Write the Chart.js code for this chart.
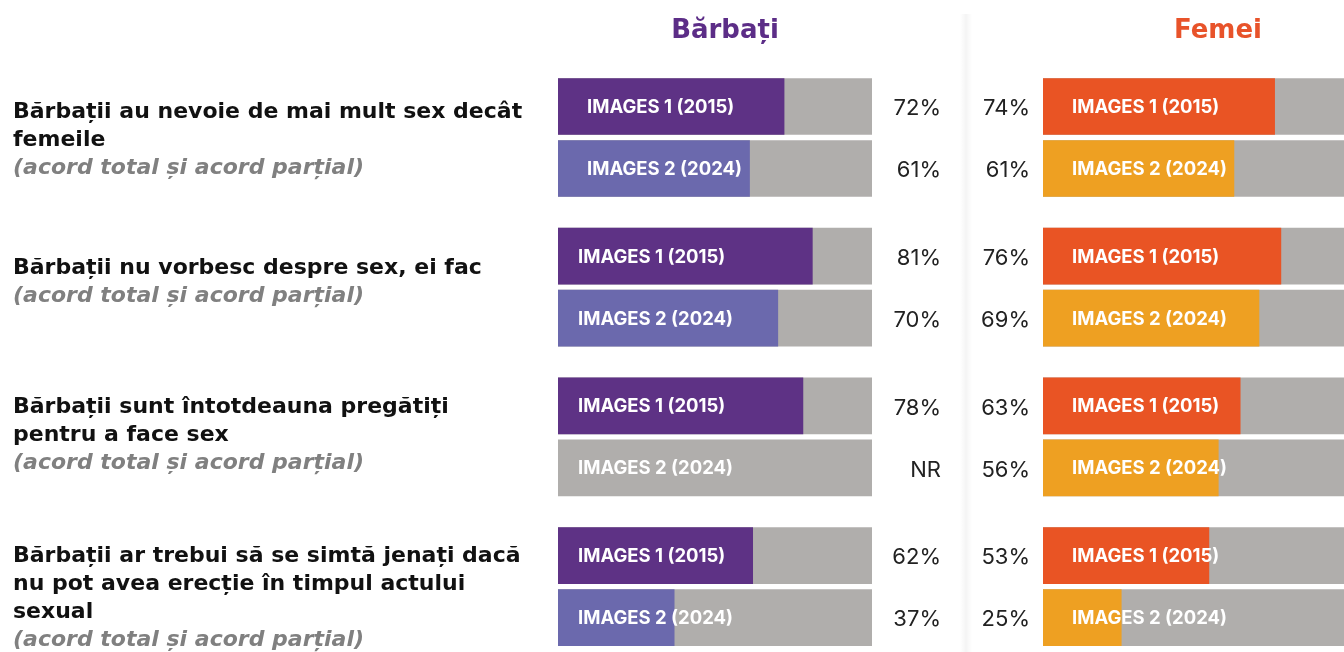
<!DOCTYPE html>
<html>
<head>
<meta charset="utf-8">
<script src="https://cdn.jsdelivr.net/npm/chart.js@4"></script>
<style>
  body { margin: 0; background: #fff; width: 1344px; height: 652px; overflow: hidden; position: relative; }
  #wrapA { position: absolute; left: 0; top: 0; width: 960px; height: 652px; }
  #wrapB { position: absolute; left: 966px; top: 0; width: 378px; height: 652px; overflow: hidden; }
  #divider { position: absolute; left: 960px; top: 14px; width: 12px; height: 638px;
    background: linear-gradient(to right, rgba(0,0,0,0), rgba(0,0,0,0.045), rgba(0,0,0,0)); }
</style>
</head>
<body>
<div id="wrapA"><canvas id="men" width="960" height="652"></canvas></div>
<div id="divider"></div>
<div id="wrapB"><canvas id="women" width="390" height="652"></canvas></div>
<script>
// les données
const questions = [
  ['Bărbații au nevoie de mai mult sex decât', 'femeile'],
  ['Bărbații nu vorbesc despre sex, ei fac'],
  ['Bărbații sunt întotdeauna pregătiți', 'pentru a face sex'],
  ['Bărbații ar trebui să se simtă jenați dacă', 'nu pot avea erecție în timpul actului', 'sexual']
];
const subtitle = '(acord total și acord parțial)';
const waves = ['IMAGES 1 (2015)', 'IMAGES 2 (2024)'];
const men2015 = [72, 81, 78, 62];
const men2024 = [61, 70, null, 37];   // null = NR
const women2015 = [74, 76, 63, 53];
const women2024 = [61, 69, 56, 25];

const FONT = 'Inter, "Noto Sans", sans-serif';
const WIDE = '"DejaVu Sans", sans-serif';
const GREY = '#b0aeac';

// position verticale d'une barre (groupe g, ligne r)
const rowY = (g, r) => 106.5 + g * 149.7 + r * 62;
// petit décalage vertical des questions, par groupe
const qShift = [6, 12, 1, 1];

function buildChart(id, opts) {
  const bg = [], vals = [], colors = [], labels = [];
  questions.forEach((q, g) => {
    [opts.v1[g], opts.v2[g]].forEach((v, r) => {
      bg.push({ x: 100, y: rowY(g, r) });
      vals.push({ x: v, y: rowY(g, r) });
      colors.push(opts.colors[r]);
      labels.push(v == null ? 'NR' : v + '%');
    });
  });

  // textes dessinés par-dessus
  const textPlugin = {
    id: 'texts',
    afterDatasetsDraw(chart) {
      const ctx = chart.ctx;
      const xs = chart.scales.x;
      const meta = chart.getDatasetMeta(0);
      ctx.save();
      ctx.textBaseline = 'middle';
      meta.data.forEach((bar, i) => {
        const g = Math.floor(i / 2), r = i % 2;
        // libellé dans la barre
        ctx.fillStyle = '#fff';
        ctx.font = 'bold 18.5px ' + FONT;
        ctx.textAlign = 'left';
        ctx.fillText(waves[r], xs.getPixelForValue(0) + opts.inOffset(g), bar.y + 1);
        // pourcentage
        ctx.fillStyle = '#222';
        ctx.font = '22px ' + FONT;
        ctx.textAlign = 'right';
        ctx.fillText(labels[i], opts.pctX, bar.y + 2);
      });
      // titre du panneau
      ctx.font = 'bold 26px ' + WIDE;
      ctx.textAlign = 'center';
      ctx.fillStyle = opts.titleColor;
      ctx.fillText(opts.title, opts.titleX, 31);
      // questions (panneau de gauche seulement)
      if (opts.questions) {
        ctx.textAlign = 'left';
        questions.forEach((q, g) => {
          let y = rowY(g, 0) + qShift[g];
          ctx.font = 'bold 22px ' + WIDE;
          ctx.fillStyle = '#111';
          q.forEach(line => { ctx.fillText(line, 13, y); y += 28; });
          ctx.font = 'italic bold 22px ' + WIDE;
          ctx.fillStyle = '#808080';
          ctx.fillText(subtitle, 13, y);
        });
      }
      ctx.restore();
    }
  };

  return new Chart(document.getElementById(id), {
    type: 'bar',
    data: {
      datasets: [
        { data: vals, backgroundColor: colors, order: 1, grouped: false, barThickness: 56 },
        { data: bg, backgroundColor: GREY, order: 2, grouped: false, barThickness: 56 }
      ]
    },
    options: {
      responsive: false,
      animation: false,
      indexAxis: 'y',
      layout: { padding: { left: opts.left, right: opts.right, top: 0, bottom: 0 } },
      plugins: { legend: { display: false }, tooltip: { enabled: false } },
      scales: {
        x: { type: 'linear', min: 0, max: 100, display: false },
        y: { type: 'linear', min: 0, max: 652, reverse: true, offset: false, display: false }
      }
    },
    plugins: [textPlugin]
  });
}

buildChart('men', {
  v1: men2015, v2: men2024,
  colors: ['#5e3285', '#6b69ad'],
  left: 558, right: 960 - 872,
  pctX: 941, inOffset: g => (g === 0 ? 29 : 20),
  title: 'Bărbați', titleColor: '#5c2d87', titleX: 725,
  questions: true
});

buildChart('women', {
  v1: women2015, v2: women2024,
  colors: ['#e95424', '#eea022'],
  left: 1043 - 966, right: 0,
  pctX: 1030 - 966, inOffset: () => 29,
  title: 'Femei', titleColor: '#e8532a', titleX: 1218 - 966,
  questions: false
});
</script>
</body>
</html>
